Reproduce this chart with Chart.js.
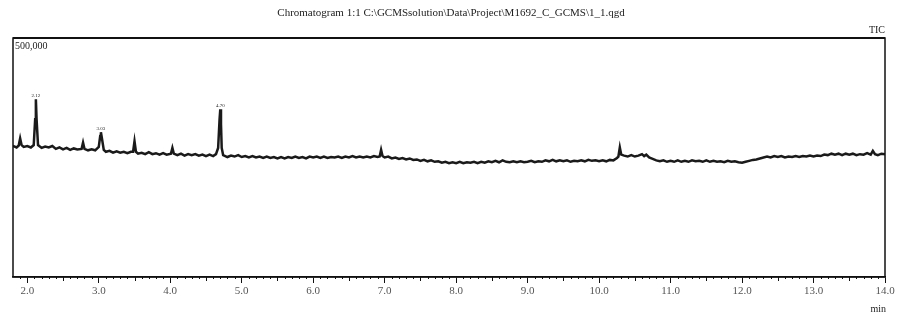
<!DOCTYPE html>
<html>
<head>
<meta charset="utf-8">
<script src="https://cdn.jsdelivr.net/npm/chart.js@4.4.1/dist/chart.umd.min.js"></script>
<style>
  html, body { margin: 0; padding: 0; background: #fff; }
  #wrap { width: 899px; height: 318px; }
</style>
</head>
<body>
<div id="wrap"><canvas id="tic"></canvas></div>
<script>
// retention time (min) and TIC intensity (x1000 counts)
const TIME = [
  1.8, 1.85, 1.88, 1.9, 1.92, 1.95, 2.0, 2.05, 2.09, 2.11,
  2.12, 2.13, 2.15, 2.2, 2.25, 2.3, 2.35, 2.4, 2.45, 2.5,
  2.55, 2.6, 2.65, 2.7, 2.76, 2.78, 2.8, 2.85, 2.9, 2.95,
  3.0, 3.02, 3.03, 3.04, 3.07, 3.1, 3.15, 3.2, 3.25, 3.3,
  3.35, 3.4, 3.45, 3.48, 3.5, 3.52, 3.55, 3.6, 3.65, 3.7,
  3.75, 3.8, 3.85, 3.9, 3.95, 4.01, 4.03, 4.05, 4.1, 4.15,
  4.2, 4.25, 4.3, 4.35, 4.4, 4.45, 4.5, 4.55, 4.6, 4.64,
  4.67, 4.69, 4.7, 4.71, 4.72, 4.74, 4.8, 4.85, 4.9, 4.95,
  5.0, 5.05, 5.1, 5.15, 5.2, 5.25, 5.3, 5.35, 5.4, 5.45,
  5.5, 5.55, 5.6, 5.65, 5.7, 5.75, 5.8, 5.85, 5.9, 5.95,
  6.0, 6.05, 6.1, 6.15, 6.2, 6.25, 6.3, 6.35, 6.4, 6.45,
  6.5, 6.55, 6.6, 6.65, 6.7, 6.75, 6.8, 6.85, 6.9, 6.93,
  6.95, 6.97, 7.0, 7.05, 7.1, 7.15, 7.2, 7.25, 7.3, 7.35,
  7.4, 7.45, 7.5, 7.55, 7.6, 7.65, 7.7, 7.75, 7.8, 7.85,
  7.9, 7.95, 8.0, 8.05, 8.1, 8.15, 8.2, 8.25, 8.3, 8.35,
  8.4, 8.45, 8.5, 8.55, 8.6, 8.65, 8.7, 8.75, 8.8, 8.85,
  8.9, 8.95, 9.0, 9.05, 9.1, 9.15, 9.2, 9.25, 9.3, 9.35,
  9.4, 9.45, 9.5, 9.55, 9.6, 9.65, 9.7, 9.75, 9.8, 9.85,
  9.9, 9.95, 10.0, 10.05, 10.1, 10.15, 10.2, 10.25, 10.27, 10.29,
  10.31, 10.35, 10.4, 10.45, 10.5, 10.55, 10.6, 10.63, 10.66, 10.7,
  10.75, 10.8, 10.85, 10.9, 10.95, 11.0, 11.05, 11.1, 11.15, 11.2,
  11.25, 11.3, 11.35, 11.4, 11.45, 11.5, 11.55, 11.6, 11.65, 11.7,
  11.75, 11.8, 11.85, 11.9, 11.95, 12.0, 12.05, 12.1, 12.15, 12.2,
  12.25, 12.3, 12.35, 12.4, 12.45, 12.5, 12.55, 12.6, 12.65, 12.7,
  12.75, 12.8, 12.85, 12.9, 12.95, 13.0, 13.05, 13.1, 13.15, 13.2,
  13.25, 13.3, 13.35, 13.4, 13.45, 13.5, 13.55, 13.6, 13.65, 13.7,
  13.75, 13.8, 13.83, 13.86, 13.9, 13.95, 14.0
];
const INTENSITY_K = [
  274, 271, 275, 290, 276, 272, 274, 271, 276, 330,
  372, 330, 276, 270, 273, 271, 274, 268, 271, 267,
  270, 266, 269, 267, 268, 281, 268, 265, 267, 265,
  272, 295, 303, 294, 266, 262, 264, 260, 263, 260,
  262, 259, 262, 262, 284, 262, 258, 260, 257, 261,
  257, 259, 256, 259, 256, 258, 270, 258, 255, 258,
  254, 257, 255, 257, 254, 256, 253, 256, 253, 257,
  270, 330, 351, 320, 270, 255, 251, 254, 252, 255,
  251, 253, 250, 253, 250, 252, 249, 252, 249, 251,
  248, 251, 248, 251, 249, 252, 249, 251, 248, 252,
  250, 252, 249, 252, 249, 251, 250, 252, 249, 252,
  250, 253, 250, 252, 250, 252, 250, 253, 251, 252,
  266, 253, 250, 252, 248, 250, 247, 249, 246, 248,
  245, 246, 243, 245, 242, 244, 241, 242, 239, 241,
  238, 240, 238, 241, 238, 240, 239, 241, 238, 241,
  239, 242, 240, 243, 240, 244, 241, 240, 242, 240,
  242, 240, 241, 243, 240, 242, 241, 244, 242, 245,
  242, 244, 242, 244, 241, 243, 242, 244, 242, 245,
  243, 244, 242, 244, 242, 245, 244, 249, 252, 271,
  256, 254, 252, 255, 252, 254, 257, 253, 256, 250,
  247, 244, 242, 244, 241, 243, 241, 244, 241, 243,
  241, 244, 242, 243, 241, 244, 241, 243, 241, 242,
  240, 243, 241, 242, 240, 239, 241, 243, 245, 246,
  248, 250, 252, 250, 253, 251, 253, 250, 252, 251,
  253, 251, 253, 252, 254, 252, 254, 253, 256, 255,
  258, 256, 258, 255, 258, 256, 258, 255, 257, 256,
  259, 256, 264, 257, 255, 258, 257
];
const X_TICKS = [2, 3, 4, 5, 6, 7, 8, 9, 10, 11, 12, 13, 14];
const PEAK_LABELS = ['2.12', '3.03', '4.70'];
const TITLE = 'Chromatogram 1:1 C:\\GCMSsolution\\Data\\Project\\M1692_C_GCMS\\1_1.qgd';

const SERIF = '"Liberation Serif", "DejaVu Serif", serif';

// frame, minor ticks and the loose texts of the printout
const decor = {
    id: 'decor',
    afterDraw(chart) {
        const ctx = chart.ctx;
        const a = chart.chartArea;
        const xs = chart.scales.x;
        const ys = chart.scales.y;
        ctx.save();
        ctx.strokeStyle = '#111';
        ctx.lineWidth = 1.5;
        ctx.strokeRect(a.left, a.top, a.right - a.left, a.bottom - a.top);
        ctx.lineWidth = 2;
        ctx.beginPath();
        ctx.moveTo(a.left, a.top);
        ctx.lineTo(a.right, a.top);
        ctx.stroke();

        // minor ticks every 0.1 min, longer at the half minute
        ctx.lineWidth = 1;
        for (let i = 19; i <= 139; i++) {
            if (i % 10 === 0) continue;
            const px = Math.round(xs.getPixelForValue(i / 10)) + 0.5;
            const len = i % 5 === 0 ? 4 : 2;
            ctx.beginPath();
            ctx.moveTo(px, a.bottom);
            ctx.lineTo(px, a.bottom + len);
            ctx.stroke();
        }

        ctx.fillStyle = '#222';
        ctx.font = '11px ' + SERIF;
        ctx.textAlign = 'center';
        ctx.textBaseline = 'middle';
        ctx.fillText(TITLE, 451, 13);

        ctx.font = '10px ' + SERIF;
        ctx.textAlign = 'right';
        ctx.fillText('TIC', a.right, 30);
        ctx.fillText('min', a.right + 1, 309);
        ctx.textAlign = 'left';
        ctx.fillText('500,000', a.left + 2, a.top + 8);

        // tiny retention-time marks above the labelled peaks
        ctx.font = '5px ' + SERIF;
        ctx.textAlign = 'center';
        ctx.textBaseline = 'bottom';
        PEAK_LABELS.forEach(lbl => {
            const t = parseFloat(lbl);
            const idx = TIME.indexOf(t);
            if (idx < 0) return;
            const px = xs.getPixelForValue(t);
            const py = ys.getPixelForValue(INTENSITY_K[idx] * 1000);
            ctx.fillText(lbl, px, py - 1);
        });
        ctx.restore();
    }
};

const ctx = document.getElementById('tic').getContext('2d');
const ticChart = new Chart(ctx, {
    type: 'line',
    data: {
        datasets: [{
            label: 'TIC',
            data: TIME.map((t, i) => ({ x: t, y: INTENSITY_K[i] * 1000 })),
            borderColor: '#1a1a1a',
            borderWidth: 2.5,
            pointRadius: 0,
            tension: 0,
            fill: false
        }]
    },
    options: {
        responsive: true,
        maintainAspectRatio: false,
        animation: false,
        layout: {
            padding: { top: 38, left: 13, right: 14, bottom: 0 }
        },
        plugins: {
            legend: { display: false },
            tooltip: { enabled: false }
        },
        scales: {
            x: {
                type: 'linear',
                min: 1.8,
                max: 14.0,
                afterBuildTicks: scale => {
                    scale.ticks = X_TICKS.map(v => ({ value: v }));
                },
                afterFit: scale => {
                    scale.height = 41;
                },
                ticks: {
                    autoSkip: false,
                    maxRotation: 0,
                    padding: 2,
                    color: '#555',
                    font: { family: SERIF, size: 11 },
                    callback: v => Number(v).toFixed(1)
                },
                grid: {
                    drawOnChartArea: false,
                    tickLength: 6,
                    tickColor: '#111',
                    tickWidth: 1
                },
                border: { display: true, color: '#111', width: 1.5 }
            },
            y: {
                display: false,
                min: 0,
                max: 500000
            }
        }
    },
    plugins: [decor]
});
</script>
</body>
</html>
